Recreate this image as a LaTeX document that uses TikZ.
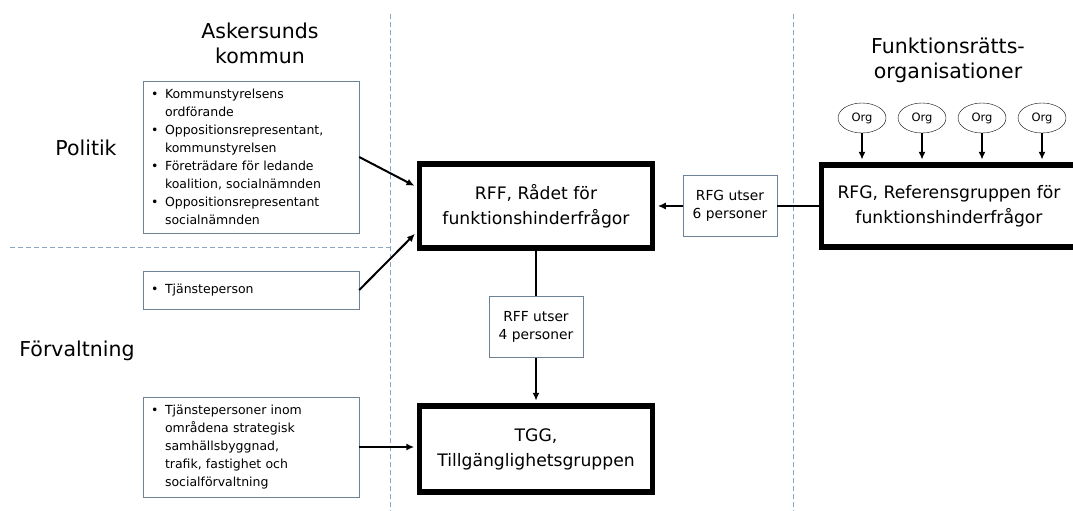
\documentclass[tikz,border=0pt]{standalone}
\usepackage{fontspec}
\setmainfont{DejaVu Sans}
\usetikzlibrary{shapes, calc, arrows.meta}
\definecolor{boxgray}{RGB}{110,130,150}
\definecolor{dividerblue}{RGB}{140,165,195}
\newcommand{\bul}{\makebox[14pt][l]{\textbullet}}
\newcommand{\ind}{\hspace*{14pt}}

\begin{document}
\begin{tikzpicture}[x=1pt, y=-1pt]
		\tikzstyle{listbox}=[
		draw=boxgray,
		rectangle,
		align=left,
		text width=200pt,
		inner xsep=8pt,
		font=\fontsize{12.5}{18}\selectfont]
		\tikzstyle{bigbox}=[
		draw,
		rectangle,
		line width=5.5pt,
		align=center,
		minimum width=233pt,
		minimum height=84pt,
		font=\fontsize{17.2}{25}\selectfont]
		\tikzstyle{notebox}=[
		draw=boxgray,
		rectangle,
		align=center,
		minimum width=94pt,
		minimum height=61pt,
		font=\fontsize{13.8}{18}\selectfont]
		\tikzstyle{org}=[
		draw,
		ellipse,
		minimum width=48pt,
		minimum height=30pt,
		inner sep=0pt,
		font=\fontsize{11.5}{12}\selectfont]
		\tikzstyle{heading}=[
		align=center,
		font=\fontsize{20.5}{25}\selectfont]
		\tikzstyle{divider}=[
		draw=dividerblue,
		dash pattern=on 5pt off 3pt,
		line width=0.8pt]
		\tikzstyle{link}=[
		line width=2pt,
		shorten >=2.5pt,
		-{Latex[length=8pt, width=7pt]}]
		\useasboundingbox (0,0) rectangle (1073,511);
		%
		\draw[divider] (390,14) -- (390,511);
		\draw[divider] (793,14) -- (793,511);
		\draw[divider] (10,247) -- (390,247);
		%
		\node[heading] (kommun) at (260,43) {Askersunds\\kommun};
		\node[heading] (politik) at (86,148) {Politik};
		\node[heading] (forv) at (77,351) {Förvaltning};
		\node[heading] (frorg) at (948,60) {Funktionsrätts-\\organisationer};
		%
		\node[bigbox] (RFF) at (536,206) {RFF, Rådet för\\funktionshinderfrågor};
		\node[bigbox, below of=RFF, node distance=243pt, minimum height=86pt] (TGG) {TGG,\\Tillgänglighetsgruppen};
		\node[notebox, below of=RFF, node distance=121pt] (RFF_ut) {RFF utser\\4 personer};
		\node[notebox, right of=RFF, node distance=194pt] (RFG_ut) {RFG utser\\6 personer};
		\node[bigbox, right of=RFF, node distance=413pt, minimum width=255pt, minimum height=82pt] (RFG) {RFG, Referensgruppen för\\funktionshinderfrågor};
		%
		\node[listbox, minimum height=152pt] (pol) at (251,157) {\bul Kommunstyrelsens\\\ind ordförande\\\bul Oppositionsrepresentant,\\\ind kommunstyrelsen\\\bul Företrädare för ledande\\\ind koalition, socialnämnden\\\bul Oppositionsrepresentant\\\ind socialnämnden};
		\node[listbox, minimum height=38pt] (tj) at (251,290) {\bul Tjänsteperson};
		\node[listbox, minimum height=100pt] (tj_omr) at (251,447) {\bul Tjänstepersoner inom\\\ind områdena strategisk\\\ind samhällsbyggnad,\\\ind trafik, fastighet och\\\ind socialförvaltning};
		%
		\node[org] (org1) at (862,118) {Org};
		\node[org, right of=org1, node distance=60pt] (org2) {Org};
		\node[org, right of=org2, node distance=60pt] (org3) {Org};
		\node[org, right of=org3, node distance=60pt] (org4) {Org};
		%
		\path [link] (pol.east) edge ([yshift=19pt]RFF.west);
		\path [link] (tj.east) edge ([yshift=-26pt]RFF.west);
		\path [link] (tj_omr.east) edge (tj_omr.east -| TGG.west);
		\path [line width=2pt] (RFF.south) edge (RFF_ut.north);
		\path [link] (RFF_ut.south) edge (TGG.north);
		\path [line width=2pt] (RFG.west) edge (RFG_ut.east);
		\path [link] (RFG_ut.west) edge (RFF.east);
		%
		\path [link] (org1.south) edge (org1 |- RFG.north);
		\path [link] (org2.south) edge (org2 |- RFG.north);
		\path [link] (org3.south) edge (org3 |- RFG.north);
		\path [link] (org4.south) edge (org4 |- RFG.north);
	\end{tikzpicture}
\end{document}
